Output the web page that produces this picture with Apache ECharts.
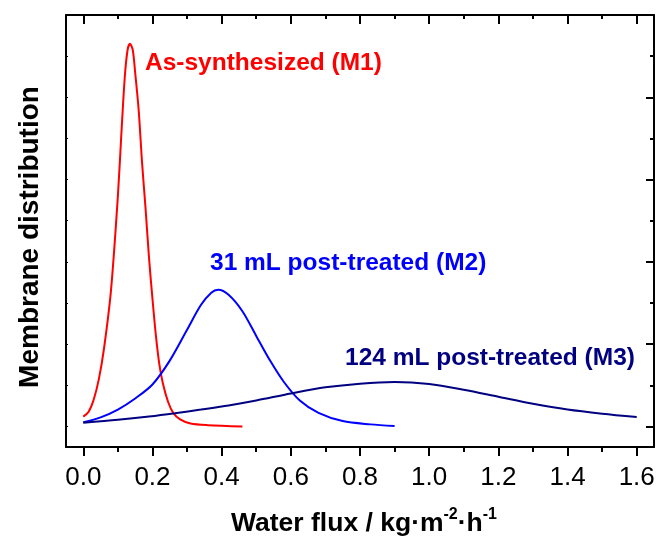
<!DOCTYPE html>
<html><head><meta charset="utf-8">
<script src="https://cdn.jsdelivr.net/npm/echarts@6/dist/echarts.min.js"></script>
<style>html,body{margin:0;padding:0;background:#fff}#c{width:656px;height:538px}</style>
</head><body><div id="c"></div>
<script>
// Data (x: water flux, y: membrane distribution, arb. units)
const m1 = [[0.0,0.24],[0.015,0.35],[0.03,0.65],[0.045,1.15],[0.06,1.9],[0.08,3.3],[0.10,5.6],[0.11,7.1],[0.12,8.5],[0.128,9.15],[0.135,9.3],[0.143,9.15],[0.15,8.6],[0.16,7.7],[0.17,6.4],[0.18,5.3],[0.19,4.1],[0.20,3.1],[0.21,2.2],[0.22,1.5],[0.23,1.05],[0.245,0.6],[0.26,0.33],[0.28,0.17],[0.31,0.07],[0.36,0.03],[0.46,0.0]];
const m2 = [[0.0,0.1],[0.05,0.22],[0.1,0.41],[0.15,0.68],[0.2,1.02],[0.25,1.6],[0.3,2.35],[0.34,2.95],[0.37,3.25],[0.39,3.32],[0.42,3.2],[0.46,2.8],[0.5,2.2],[0.54,1.6],[0.58,1.08],[0.626,0.63],[0.68,0.33],[0.75,0.13],[0.83,0.05],[0.90,0.01]];
const m3 = [[0.0,0.09],[0.1,0.16],[0.19,0.24],[0.265,0.32],[0.34,0.41],[0.42,0.51],[0.5,0.63],[0.6,0.8],[0.7,0.95],[0.8,1.04],[0.9,1.08],[1.0,1.03],[1.1,0.89],[1.2,0.72],[1.3,0.55],[1.4,0.41],[1.5,0.31],[1.6,0.23]];
const xMajor = [0,0.2,0.4,0.6,0.8,1.0,1.2,1.4,1.6];
const xMinor = [0.1,0.3,0.5,0.7,0.9,1.1,1.3,1.5];
const yMajor = [0,2,4,6,8,10];
const yMinor = [1,3,5,7,9];
const yAll = [0,1,2,3,4,5,6,7,8,9,10];
const names = ['As-synthesized (M1)','31 mL post-treated (M2)','124 mL post-treated (M3)'];
const colors = ['#ff0000','#0000ff','#000080'];

const FONT = 'Liberation Sans, Arial, sans-serif';
const XMIN=-0.05, XMAX=1.65, YMIN=-0.5, YMAX=10;
const lineStyle = {color:'#000', width:2};
function xa(pos, ticks, len, inside, showLine, labels){
  return {type:'value', position:pos, min:XMIN, max:XMAX, gridIndex:0,
    axisLine:{show:showLine, onZero:false, lineStyle},
    axisTick:{show:true, inside, length:len, customValues:ticks, lineStyle:{color:'#000',width:2}},
    axisLabel:labels?{show:true, customValues:ticks, formatter:v=>v.toFixed(1), fontSize:26, color:'#000', fontFamily:FONT, margin:18}:{show:false},
    splitLine:{show:false}};
}
function ya(pos, ticks, len, showLine){
  return {type:'value', position:pos, min:YMIN, max:YMAX,
    axisLine:{show:showLine, onZero:false, lineStyle},
    axisTick:{show:true, inside:true, length:len, customValues:ticks, lineStyle:{color:'#000',width:pos==='left'?1:2}},
    axisLabel:{show:false}, splitLine:{show:false}};
}
const xAxes = [xa('bottom', xMajor, 9, false, true, true), xa('bottom', xMinor, 5, false, false, false),
  xa('top', xMajor, 9, true, true, false), xa('top', xMinor, 4, true, false, false)];
xAxes[0].name = 'Water flux / kg·m{sup|-2}·h{sup|-1}';
xAxes[0].nameLocation = 'middle';
xAxes[0].nameGap = 60;
xAxes[0].nameTextStyle = {fontSize:26.5, fontWeight:'bold', color:'#000', fontFamily:FONT, padding:[0,0,0,8],
  rich:{sup:{fontSize:16, fontWeight:'bold', color:'#000', fontFamily:FONT, padding:[0,0,17,0]}}};
const yAxes = [ya('left', yAll, 2, true), ya('right', yMajor, 8, true), ya('right', yMinor, 4, false)];
yAxes[0].name = 'Membrane distribution';
yAxes[0].nameLocation = 'middle';
yAxes[0].nameGap = 22;
yAxes[0].nameTextStyle = {fontSize:28, fontWeight:'bold', color:'#000', fontFamily:FONT, padding:[0,12,0,0]};

const series = [m1,m2,m3].map((d,i)=>({type:'line', name:names[i], data:d, smooth:0.3, showSymbol:false,
  xAxisIndex:0, yAxisIndex:0, lineStyle:{color:colors[i], width:2}, itemStyle:{color:colors[i]}}));

const chart = echarts.init(document.getElementById('c'), null, {renderer:'canvas'});
chart.setOption({
  animation:false,
  backgroundColor:'#fff',
  grid:{left:66, right:2, top:15, bottom:91, containLabel:false, outerBoundsMode:'none'},
  xAxis:xAxes, yAxis:yAxes, series,
  graphic:[
    {type:'text', left:145, top:51, style:{text:names[0], fill:colors[0], font:'bold 24.5px '+FONT}},
    {type:'text', left:210, top:251, style:{text:names[1], fill:colors[1], font:'bold 24.5px '+FONT}},
    {type:'text', left:345, top:346, style:{text:names[2], fill:colors[2], font:'bold 24.5px '+FONT}}
  ]
});
</script></body></html>
